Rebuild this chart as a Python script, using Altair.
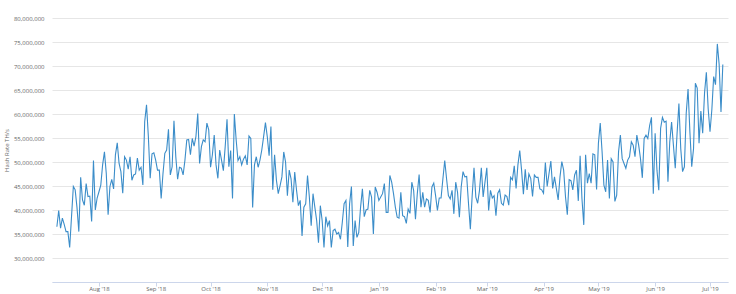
import altair as alt
import pandas as pd

start_date = "2018-07-09"

# Hash rate in millions of TH/s, one value per day
seg1 = [36.5, 39.9, 36.2, 38.3, 37.0, 35.5, 35.5, 32.2, 38.6, 44.9, 44.2, 40.5, 35.5, 46.8, 42.1,
        41.0, 45.5, 42.8, 42.9, 37.6, 50.3, 40.0, 42.5, 43.8, 45.2, 49.4, 52.1, 47.6, 39.0, 44.9,
        46.4, 44.4, 51.5, 54.0, 49.7, 48.0, 43.5, 51.1, 50.4, 48.5, 51.1, 46.2, 47.3, 47.5, 50.8,
        48.3, 48.9, 45.2, 58.4, 61.9, 55.3, 46.6, 51.7, 51.9, 50.4, 48.3, 48.3, 42.4, 47.6, 51.8]
seg2 = [52.5, 56.8, 47.3, 49.0, 58.6, 51.1, 46.4, 48.9, 48.7, 47.3, 50.4, 54.6, 54.7, 51.5, 54.9,
        53.3, 55.3, 60.1, 49.7, 53.2, 54.6, 54.2, 58.1, 56.7, 48.9, 51.5, 55.6, 49.4, 46.6, 52.5,
        50.4, 48.2, 53.2, 58.9, 49.0, 52.4, 42.4, 60.0, 54.6, 50.3, 51.1, 49.4, 50.6, 51.3, 49.4,
        55.4, 54.9, 40.5, 49.4, 51.1, 48.9, 50.4, 52.5, 55.3, 58.2, 55.3, 51.3, 57.4, 44.2, 51.5]
seg3 = [46.2, 43.4, 45.1, 46.9, 52.1, 50.0, 43.0, 48.3, 46.5, 41.6, 47.9, 44.1, 40.9, 42.0, 34.6,
        40.6, 41.3, 47.2, 42.7, 36.7, 43.4, 40.6, 37.8, 33.2, 40.9, 37.8, 32.2, 38.6, 36.7, 37.8,
        32.2, 35.7, 36.0, 35.0, 35.3, 33.9, 37.4, 41.3, 42.0, 32.3, 41.3, 44.9, 32.5, 37.8, 34.3,
        35.3, 40.6, 44.4, 38.6, 40.0, 40.2, 44.1, 42.7, 35.0, 44.8, 43.7, 42.0, 42.7, 43.4, 45.5]
seg4 = [39.5, 39.5, 47.2, 45.8, 43.4, 40.6, 38.5, 38.3, 43.7, 38.8, 38.6, 37.2, 40.2, 39.3, 45.8,
        44.1, 38.1, 43.4, 47.4, 40.6, 43.7, 40.6, 42.3, 42.0, 39.5, 44.8, 45.6, 43.0, 39.9, 42.5,
        42.5, 46.5, 50.3, 46.5, 43.0, 42.3, 44.1, 39.2, 45.8, 43.7, 38.5, 44.8, 48.0, 46.9, 47.0,
        41.3, 36.0, 43.0, 48.8, 42.7, 41.4, 44.1, 48.8, 42.7, 45.8, 48.8, 39.9, 44.1, 42.5, 43.0, 38.8]
seg5 = [43.5, 44.2, 41.4, 41.0, 43.1, 42.8, 41.0, 46.8, 46.3, 49.2, 44.5, 49.4, 52.4, 48.3, 43.3,
        48.5, 44.2, 47.5, 46.6, 42.8, 47.3, 46.8, 46.8, 44.4, 44.2, 43.5, 49.9, 44.9, 47.6, 50.2,
        44.5, 46.9, 44.5, 42.1, 46.9, 50.1, 48.3, 42.8, 39.0, 46.3, 46.1, 44.2, 47.3, 48.3, 41.9,
        51.3, 42.4, 36.9, 51.5, 45.6, 47.6, 45.6, 51.7, 51.5, 44.3, 53.9, 58.1, 52.2, 45.2, 43.8, 50.4]
seg6 = [42.4, 50.7, 50.0, 41.8, 43.1, 52.1, 55.6, 50.7, 49.7, 48.7, 50.4, 51.1, 54.2, 53.5, 51.1,
        55.6, 53.5, 50.7, 46.7, 54.9, 55.6, 54.9, 57.6, 59.3, 43.4, 56.0, 48.3, 44.1, 57.0, 59.3,
        58.3, 58.5, 45.9, 54.2, 58.3, 53.5, 48.7, 56.0, 62.2, 52.8, 48.0, 49.0, 60.2, 65.2, 56.3,
        49.0, 52.8, 66.4, 65.4, 53.9, 60.6, 56.0, 64.3, 68.7, 61.1, 56.3, 60.9, 67.8, 66.1, 74.6,
        70.3, 60.4, 70.3]

values_m = seg1 + seg2 + seg3 + seg4 + seg5 + seg6
dates = pd.date_range(start_date, periods=len(values_m), freq="D").strftime("%Y-%m-%d")
df = pd.DataFrame({"date": list(dates), "hash": [v * 1_000_000 for v in values_m]})

month_ticks = [alt.DateTime(year=y, month=m, date=1, utc=True)
               for (y, m) in [(2018, 8), (2018, 9), (2018, 10), (2018, 11), (2018, 12),
                              (2019, 1), (2019, 2), (2019, 3), (2019, 4), (2019, 5),
                              (2019, 6), (2019, 7)]]
y_ticks = [25e6, 30e6, 35e6, 40e6, 45e6, 50e6, 55e6, 60e6, 65e6, 70e6, 75e6, 80e6]

chart = alt.Chart(df).mark_line(color="#3b8dc9", strokeWidth=1.1, interpolate="linear").encode(
    x=alt.X("date:T",
            scale=alt.Scale(type="utc",
                            domain=[alt.DateTime(year=2018, month=7, date=6, hours=8, utc=True),
                                    alt.DateTime(year=2019, month=7, date=10, hours=20, utc=True)]),
            axis=alt.Axis(values=month_ticks, title=None,
                          labelExpr="utcFormat(datum.value, \"%b '%y\")",
                          grid=False, domainColor="#ccd6eb", tickColor="#ccd6eb", tickSize=4,
                          labelFontSize=6, labelColor="#666666", labelPadding=-1,
                          labelFont="Open Sans")),
    y=alt.Y("hash:Q",
            scale=alt.Scale(domain=[25e6, 80e6], zero=False, nice=False),
            axis=alt.Axis(values=y_ticks, title="Hash Rate TH/s",
                          labelExpr="datum.value == 25000000 ? '' : format(datum.value, ',d')",
                          domain=False, ticks=False, gridColor="#e6e6e6", gridWidth=1,
                          labelFontSize=6, labelColor="#666666", labelPadding=8,
                          labelFont="Open Sans", titleFont="Open Sans", titleFontSize=6,
                          titleFontWeight="normal", titleColor="#666666", titlePadding=4)),
).properties(
    width=676, height=264,
    autosize=alt.AutoSizeParams(type="none"),
    padding={"left": 52, "top": 18, "right": 8, "bottom": 12},
).configure_view(stroke=None)

chart.save("out.html", embed_options={"renderer": "svg", "actions": False})
